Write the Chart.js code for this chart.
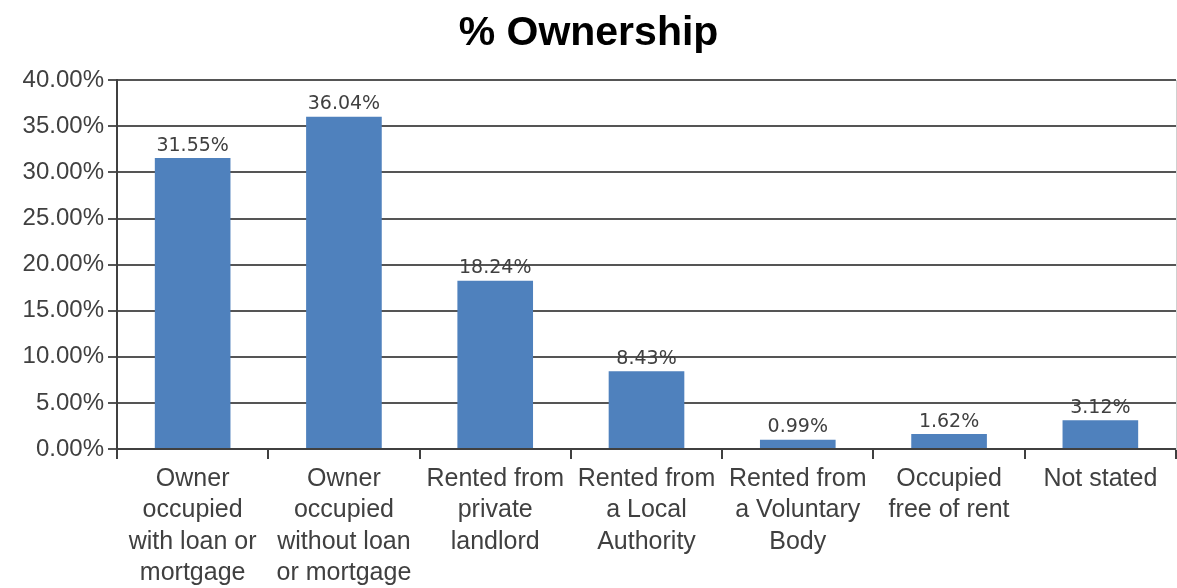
<!DOCTYPE html>
<html>
<head>
<meta charset="utf-8">
<script src="https://cdn.jsdelivr.net/npm/chart.js@4"></script>
<style>
    html, body { margin: 0; padding: 0; background: #ffffff; }
    #wrap { width: 1177px; height: 588px; }
</style>
</head>
<body>
<div id="wrap"><canvas id="ownershipChart" width="1177" height="588"></canvas></div>
<script>
const categories = [
    ['Owner', 'occupied', 'with loan or', 'mortgage'],
    ['Owner', 'occupied', 'without loan', 'or mortgage'],
    ['Rented from', 'private', 'landlord'],
    ['Rented from', 'a Local', 'Authority'],
    ['Rented from', 'a Voluntary', 'Body'],
    ['Occupied', 'free of rent'],
    ['Not stated']
];
const ownershipValues = [31.55, 36.04, 18.24, 8.43, 0.99, 1.62, 3.12];
const yTicks = [0, 5, 10, 15, 20, 25, 30, 35, 40];

const textColor = '#404040';

// draws the value above each bar
const valueLabels = {
    id: 'valueLabels',
    afterDatasetsDraw(chart) {
        const ctx = chart.ctx;
        const meta = chart.getDatasetMeta(0);
        ctx.save();
        ctx.font = '19px "DejaVu Sans"';
        ctx.fillStyle = textColor;
        ctx.textAlign = 'center';
        ctx.textBaseline = 'bottom';
        meta.data.forEach((bar, i) => {
            ctx.fillText(ownershipValues[i].toFixed(2) + '%', bar.x, bar.y - 3);
        });
        ctx.restore();
    }
};

const ctx = document.getElementById('ownershipChart').getContext('2d');
new Chart(ctx, {
    type: 'bar',
    data: {
        labels: categories,
        datasets: [{
            label: '% Ownership',
            data: ownershipValues,
            backgroundColor: '#4f81bd',
            borderWidth: 0,
            categoryPercentage: 1.0,
            barPercentage: 0.5
        }]
    },
    plugins: [valueLabels],
    options: {
        responsive: false,
        animation: false,
        layout: {
            padding: { left: 0, right: 0, top: 0, bottom: 0 }
        },
        plugins: {
            legend: { display: false },
            tooltip: { enabled: false },
            title: {
                display: true,
                text: '% Ownership',
                color: '#000000',
                font: { family: 'Liberation Sans', size: 41, weight: 'bold' },
                padding: { top: 9, bottom: 22 }
            }
        },
        scales: {
            x: {
                offset: true,
                afterFit: scale => { scale.height = 139; },
                grid: {
                    offset: true,
                    drawOnChartArea: false,
                    drawTicks: true,
                    tickLength: 10,
                    color: '#404040',
                    lineWidth: 2
                },
                border: { color: '#404040', width: 2 },
                ticks: {
                    color: textColor,
                    maxRotation: 0,
                    autoSkip: false,
                    padding: 4,
                    font: { family: 'Liberation Sans', size: 25, lineHeight: 1.26 }
                }
            },
            y: {
                min: 0,
                max: 40,
                afterFit: scale => { scale.width = 117; },
                afterBuildTicks: scale => {
                    scale.ticks = yTicks.map(v => ({ value: v }));
                },
                grid: {
                    color: '#555555',
                    lineWidth: 2,
                    drawTicks: true,
                    tickLength: 9
                },
                border: { color: '#404040', width: 2 },
                ticks: {
                    color: textColor,
                    padding: 4,
                    font: { family: 'Liberation Sans', size: 24 },
                    callback: value => value.toFixed(2) + '%'
                }
            },
            yRight: {
                position: 'right',
                min: 0,
                max: 40,
                afterFit: scale => { scale.width = 1; },
                grid: { display: false },
                ticks: { display: false },
                border: { color: '#d0d0d0', width: 1 }
            }
        }
    }
});
</script>
</body>
</html>
